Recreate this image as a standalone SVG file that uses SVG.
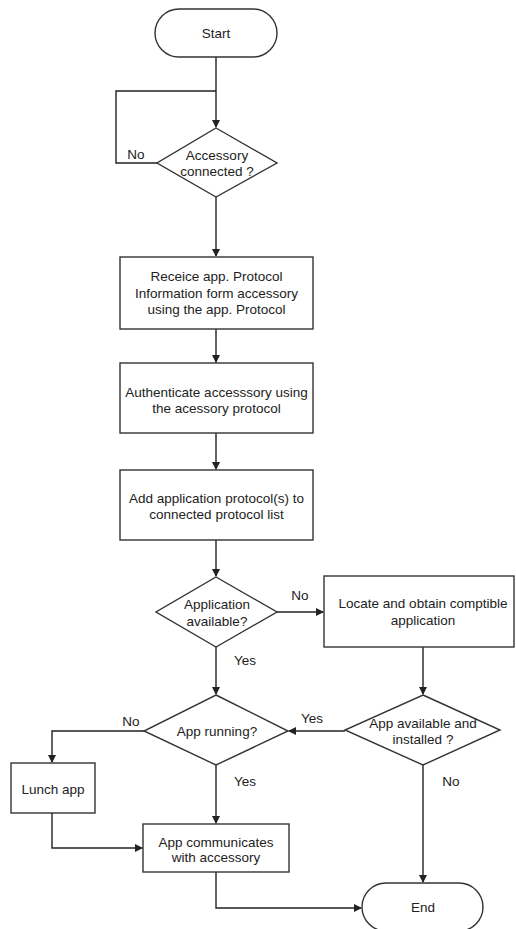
<svg xmlns="http://www.w3.org/2000/svg" width="516" height="929" viewBox="0 0 516 929">
<defs>
<marker id="arr" markerWidth="8" markerHeight="8" refX="7" refY="4" orient="auto" markerUnits="userSpaceOnUse">
<path d="M0,0 L8,4 L0,8 Z" fill="#222"/>
</marker>
<style>
.n{fill:#fff;stroke:#333;stroke-width:1.4}
.c{fill:none;stroke:#222;stroke-width:1.4}
.a{marker-end:url(#arr)}
text{font-family:"Liberation Sans",Arial,sans-serif;font-size:13.5px;fill:#222;text-anchor:middle}
</style>
</defs>
<rect width="516" height="929" fill="#fff"/>
<g id="connectors">
<path class="c a" d="M216,57 V127"/>
<path class="c" d="M157,163 H116 V91 H216"/>
<path class="c a" d="M216,197 V256"/>
<path class="c a" d="M216,329 V362"/>
<path class="c a" d="M216,433 V469"/>
<path class="c a" d="M216,540 V576"/>
<path class="c a" d="M277,612 H323"/>
<path class="c a" d="M216,647 V694"/>
<path class="c a" d="M423,647 V694"/>
<path class="c a" d="M345,731 H289"/>
<path class="c a" d="M144,731 H52 V762"/>
<path class="c a" d="M216,765 V823"/>
<path class="c a" d="M52,813 V848 H142"/>
<path class="c a" d="M216,872 V908 H361"/>
<path class="c a" d="M423,765 V882"/>
<text x="136" y="159">No</text>
<text x="300" y="600">No</text>
<text x="245" y="665">Yes</text>
<text x="312" y="723">Yes</text>
<text x="131" y="726">No</text>
<text x="245" y="786">Yes</text>
<text x="451" y="786">No</text>
</g>
<g id="start">
<rect class="n" x="155" y="9" width="122" height="48" rx="24"/>
<text x="216" y="38">Start</text>
</g>
<g id="accessory-connected">
<polygon class="n" points="216,128 277,163 216,197 157,163"/>
<text x="217" y="160">Accessory</text>
<text x="217" y="176">connected ?</text>
</g>
<g id="receive">
<rect class="n" x="120" y="257" width="193" height="72"/>
<text x="216.5" y="281">Receice app. Protocol</text>
<text x="216.5" y="298">Information form accessory</text>
<text x="216.5" y="314">using the app. Protocol</text>
</g>
<g id="authenticate">
<rect class="n" x="120" y="363" width="193" height="70"/>
<text x="216.5" y="397">Authenticate accesssory using</text>
<text x="216.5" y="413">the acessory protocol</text>
</g>
<g id="add-protocol">
<rect class="n" x="120" y="470" width="193" height="70"/>
<text x="216.5" y="503">Add application protocol(s) to</text>
<text x="216.5" y="519">connected protocol list</text>
</g>
<g id="application-available">
<polygon class="n" points="216,577 277,612 216,647 156,612"/>
<text x="217" y="609">Application</text>
<text x="217" y="626">available?</text>
</g>
<g id="locate">
<rect class="n" x="324" y="576" width="190" height="71"/>
<text x="423" y="608">Locate and obtain comptible</text>
<text x="423" y="625">application</text>
</g>
<g id="app-running">
<polygon class="n" points="216,695 288,731 216,765 144,731"/>
<text x="217" y="736">App running?</text>
</g>
<g id="app-installed">
<polygon class="n" points="423,695 500,730 423,765 345,730"/>
<text x="423" y="728">App available and</text>
<text x="423" y="744">installed ?</text>
</g>
<g id="launch">
<rect class="n" x="11" y="763" width="84" height="50"/>
<text x="53" y="794">Lunch app</text>
</g>
<g id="communicate">
<rect class="n" x="143" y="824" width="146" height="48"/>
<text x="216" y="847">App communicates</text>
<text x="216" y="862">with accessory</text>
</g>
<g id="end">
<rect class="n" x="362" y="883" width="121" height="48" rx="24"/>
<text x="423" y="912">End</text>
</g>
</svg>
